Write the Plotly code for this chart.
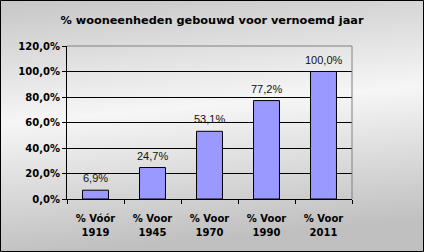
import base64
import plotly.graph_objects as go

label_top = ["% Vóór", "% Voor", "% Voor", "% Voor", "% Voor"]
label_year = ["1919", "1945", "1970", "1990", "2011"]
values = [6.9, 24.7, 53.1, 77.2, 100.0]
y_ticks = [0, 20, 40, 60, 80, 100, 120]
y_tick_text = ["0,0%", "20,0%", "40,0%", "60,0%", "80,0%", "100,0%", "120,0%"]

categories = [f"{a} {b}" for a, b in zip(label_top, label_year)]

W, H = 424, 252
ML, MR, MT, MB = 67, 72, 46, 53
PW, PH = W - ML - MR, H - MT - MB

labels = [f"{v:.1f}".replace(".", ",") + "%" for v in values]

svg = f"""<svg xmlns='http://www.w3.org/2000/svg' width='{W}' height='{H}' preserveAspectRatio='none'>
<defs><linearGradient id='g' x1='0' y1='0' x2='0.15' y2='1'>
<stop offset='0' stop-color='#C6C6C6'/>
<stop offset='0.48' stop-color='#F6F6F6'/>
<stop offset='1' stop-color='#C0C0C0'/>
</linearGradient></defs>
<rect width='{W}' height='{H}' fill='url(#g)'/></svg>"""
src = "data:image/svg+xml;base64," + base64.b64encode(svg.encode()).decode()

fig = go.Figure()
fig.add_trace(go.Bar(
    x=categories, y=values,
    marker=dict(color="#9999FF", line=dict(color="#000000", width=1)),
    hoverinfo="skip",
))
fig.add_trace(go.Scatter(x=categories, y=values, xaxis="x2", mode="none",
                         hoverinfo="skip", showlegend=False))

for c, v, t in zip(categories, values, labels):
    fig.add_annotation(x=c, y=v, text=t, showarrow=False, yanchor="bottom", yshift=4,
                       font=dict(family="Liberation Sans, Arial", size=11, color="#111111"))

fig.add_shape(type="line", xref="paper", yref="paper", x0=0, x1=1, y0=1, y1=1,
              line=dict(color="#808080", width=1))
fig.add_shape(type="line", xref="paper", yref="paper", x0=1, x1=1, y0=0, y1=1,
              line=dict(color="#808080", width=1))
fig.add_shape(type="rect", xref="paper", yref="paper",
              x0=(-ML + 0.5) / PW, x1=(PW + MR - 0.5) / PW,
              y0=(-MB + 0.5) / PH, y1=(PH + MT - 0.5) / PH,
              line=dict(color="#000000", width=1))

fig.add_layout_image(dict(source=src, xref="paper", yref="paper",
                          x=-ML / PW, y=1 + MT / PH, sizex=W / PW, sizey=H / PH,
                          xanchor="left", yanchor="top", sizing="stretch", layer="below"))

tick_font = dict(family="DejaVu Sans", size=10, color="#000000", weight="bold")

fig.update_layout(
    width=W, height=H,
    margin=dict(l=ML, r=MR, t=MT, b=MB),
    paper_bgcolor="#D8D8D8",
    plot_bgcolor="#C0C0C0",
    bargap=0.545,
    showlegend=False,
    title=dict(text="<b>% wooneenheden gebouwd voor vernoemd jaar</b>", x=0.5, xanchor="center",
               y=1 - 20 / H, yanchor="middle",
               font=dict(family="DejaVu Sans", size=11.3, color="#000000")),
    font=dict(family="DejaVu Sans", color="#000000"),
    xaxis=dict(type="category", categoryorder="array", categoryarray=categories,
               tickvals=categories, ticktext=label_top,
               showline=True, linecolor="#000000", linewidth=1,
               ticks="outside", ticklen=4, tickcolor="#000000", tickson="boundaries",
               ticklabelstandoff=10, tickfont=tick_font),
    xaxis2=dict(type="category", categoryorder="array", categoryarray=categories,
                overlaying="x", matches="x", anchor="y", side="bottom",
                tickvals=categories, ticktext=label_year,
                showline=False, ticks="", showgrid=False,
                ticklabelstandoff=26, tickfont=tick_font),
    yaxis=dict(range=[0, 120], tickvals=y_ticks, ticktext=y_tick_text,
               showgrid=True, gridcolor="#000000", gridwidth=1,
               showline=True, linecolor="#000000", linewidth=1,
               ticks="outside", ticklen=4, tickcolor="#000000",
               zeroline=False, tickfont=tick_font),
)

fig.write_html("out.html")
